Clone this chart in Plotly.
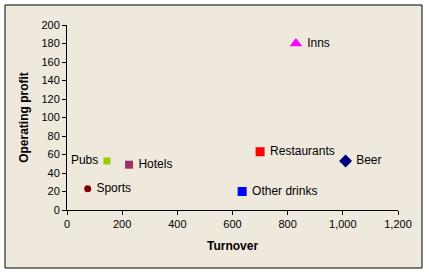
import plotly.graph_objects as go

names = ["Inns", "Pubs", "Hotels", "Sports", "Restaurants", "Beer", "Other drinks"]
turnover = [830, 145, 225, 75, 700, 1010, 635]
profit = [180, 53, 49, 23, 63, 53, 20]
colors = ["#FF00FF", "#99CC00", "#993366", "#800000", "#FF0000", "#000080", "#0000FF"]
symbols = ["triangle-up", "square", "square", "circle", "square", "diamond", "square"]
sizes = [11, 7, 8, 7, 9, 10, 9]
positions = ["middle right", "middle left", "middle right", "middle right",
             "middle right", "middle right", "middle right"]
labels = [" " + n if p == "middle right" else n + " " for n, p in zip(names, positions)]

W, H = 429, 275
L, R, T, B = 67, 31, 25, 65
pw, ph = W - L - R, H - T - B

fig = go.Figure()
fig.add_trace(go.Scatter(
    x=turnover, y=profit, mode="markers+text", text=labels,
    textposition=positions,
    textfont=dict(family="Liberation Sans, Arial", size=12, color="black"),
    marker=dict(color=colors, symbol=symbols, size=sizes, opacity=1, line=dict(width=0)),
    opacity=1, cliponaxis=False, showlegend=False,
))

fig.add_shape(type="rect", xref="paper", yref="paper",
              x0=(5 - L) / pw, x1=(422 - L) / pw,
              y0=1 - (268 - T) / ph, y1=1 - (5 - T) / ph,
              line=dict(color="black", width=1), fillcolor="#EFE8DC", layer="below")

axis_font = dict(family="Liberation Sans, Arial", size=11, color="black")
title_font = dict(family="Liberation Sans, Arial", size=12, color="black")
fig.update_layout(
    width=W, height=H, margin=dict(l=L, r=R, t=T, b=B),
    paper_bgcolor="white", plot_bgcolor="rgba(0,0,0,0)",
    separators=".,",
    xaxis=dict(range=[0, 1200], tick0=0, dtick=200, tickformat=",", showgrid=False,
               zeroline=False, showline=True, linecolor="black", linewidth=1,
               ticks="outside", ticklen=4, tickcolor="black", tickfont=axis_font,
               title=dict(text="<b>Turnover</b>", font=title_font, standoff=12)),
    yaxis=dict(range=[0, 200], tick0=0, dtick=20, showgrid=False, zeroline=False,
               showline=True, linecolor="black", linewidth=1, ticks="outside",
               ticklen=4, tickcolor="black", tickfont=axis_font,
               title=dict(text="<b>Operating profit</b>", font=title_font, standoff=10)),
)

fig.write_html("out.html")
